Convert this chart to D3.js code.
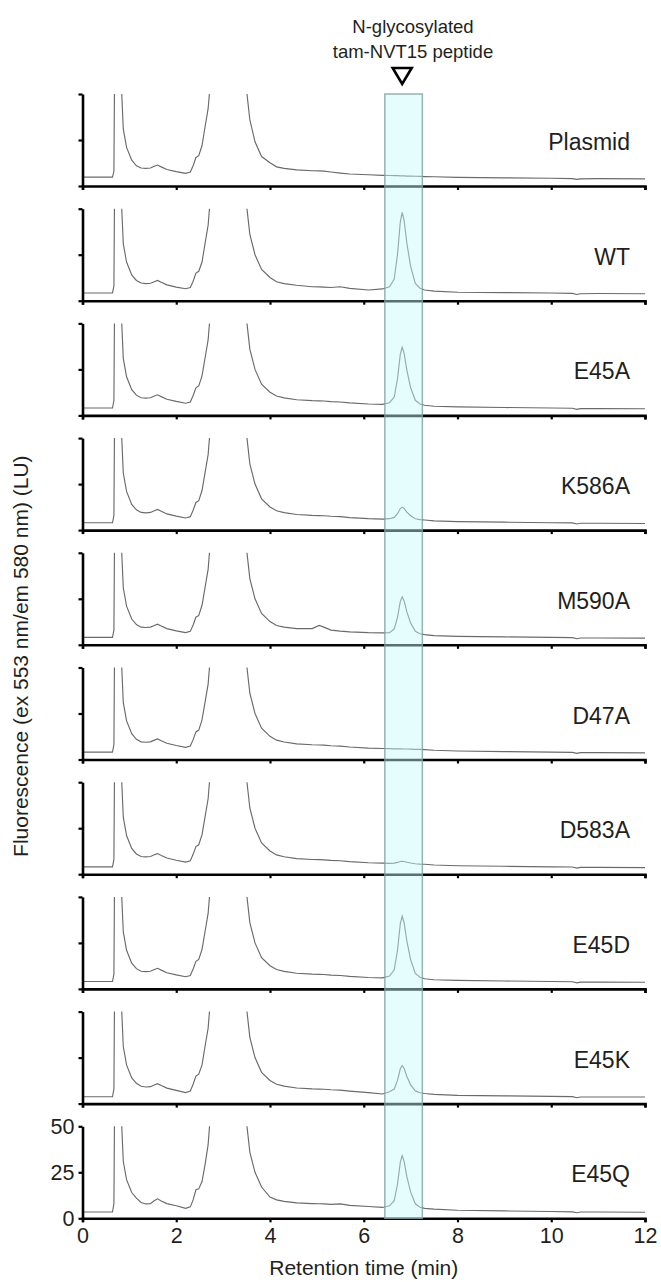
<!DOCTYPE html>
<html><head><meta charset="utf-8">
<script src="https://cdn.jsdelivr.net/npm/d3@7"></script>
<style>
body{margin:0;background:#fff}
text{font-family:"Liberation Sans",Arial,Helvetica,sans-serif;fill:#231f20}
</style>
</head><body>
<svg id="c" width="661" height="1282"></svg>
<script>
// ---------------- DATA ----------------
const samples = ["Plasmid","WT","E45A","K586A","M590A","D47A","D583A","E45D","E45K","E45Q"];
const xTicks = [0,2,4,6,8,10,12];
const yTicks = [0,25,50];
const bandRange = [6.45, 7.25];     // highlighted retention window (min)
const peakTime = 6.82;
const titleLines = ["N-glycosylated","tam-NVT15 peptide"];

// retention time (min) sampling points shared by all traces
const times = [0,0.64,0.67,0.7,0.76,0.82,0.87,0.94,1.05,1.15,1.25,1.35,1.45,1.52,1.6,1.68,1.8,2.0,2.2,2.3,2.36,2.42,2.48,2.55,2.62,2.68,2.74,2.8,
  3.45,3.5,3.57,3.68,3.82,4.0,4.14,4.3,4.57,4.9,5.05,5.15,5.3,5.5,5.7,6.1,6.4,
  6.55,6.65,6.72,6.78,6.82,6.86,6.92,7.0,7.1,7.2,7.3,
  7.5,8.0,9.0,10.0,10.45,10.55,10.62,11,12];

// fluorescence (LU); values above 50 are off-scale
const plasmid = [4.8,4.8,8,120,200,60,31,21,14,11,9.8,9.6,9.8,10.6,11.4,10.4,9,7.8,6.9,7.6,11,15.5,16.5,22,33,42,60,120,
  150,52,36,24,16,12.6,10.4,9.6,8.8,8.3,8.2,8.1,7.6,7.0,6.5,6.1,5.8,
  5.7,5.6,5.6,5.5,5.5,5.5,5.4,5.4,5.3,5.2,5.1,
  5.0,4.7,4.4,4.2,4.0,3.6,3.9,4.0,3.9];
const wt = [4.2,4.2,8,120,200,60,31,21,14,11,9.6,9.3,9.5,10.2,11.0,10.0,8.6,7.4,6.5,7.2,10.6,15,16,21,32,41,60,120,
  150,52,36,25,17,12.6,10.3,9.3,8.4,7.6,7.5,7.4,7.2,7.6,6.7,5.8,6.4,
  7.6,11.8,25.1,42.9,48,43.7,31.2,18.7,9.4,6.8,5.8,
  5.2,4.6,4.4,4.2,4.0,3.4,3.8,3.9,3.8];
const e45a = [4.0,4.0,8,120,200,60,31,21,14,11,9.6,9.4,9.6,10.4,11.2,10.2,8.8,7.6,6.6,7.3,10.8,15,16,21.5,32,41,60,120,
  150,52,36,25,17,12.6,10.5,9.5,8.5,8.0,7.9,7.8,7.5,7.3,6.8,6.2,6.0,
  6.9,10.0,19.9,33.3,37,33.9,24.5,15.1,8.2,6.2,5.5,
  5.0,4.6,4.3,4.0,3.9,3.3,3.7,3.7,3.6];
const k586a = [4.0,4.0,8,120,200,60,31,21,14,11,9.6,9.4,9.6,10.4,11.2,10.2,8.8,7.6,6.6,7.3,10.8,15,16,21.5,32,41,60,120,
  150,52,36,25,17,12.6,10.5,9.5,8.5,8.0,7.9,7.8,7.5,7.3,6.8,6.2,6.0,
  6.2,6.9,8.9,11.7,12.5,11.8,9.8,7.8,6.2,5.7,5.5,
  5.0,4.6,4.3,4.0,3.9,3.3,3.7,3.7,3.6];
const m590a = [4.0,4.0,8,120,200,60,31,21,14,11,9.6,9.4,9.6,10.4,11.2,10.2,8.8,7.6,6.6,7.3,10.8,15,16,21.5,32,41,60,120,
  150,52,36,25,17,12.6,10.5,9.6,8.8,8.8,10.5,9.6,8.0,7.4,7.0,6.6,6.5,
  6.6,8.6,14.9,23.6,26,24.0,17.9,11.8,7.3,6.0,5.5,
  5.0,4.6,4.3,4.0,3.9,3.3,3.7,3.7,3.6];
const d47a = [4.0,4.0,8,120,200,60,31,21,14,11,9.6,9.4,9.6,10.4,11.2,10.2,8.8,7.6,6.6,7.3,10.8,15,16,21.5,32,41,60,120,
  150,52,36,25,17,12.6,10.5,9.5,8.5,8.0,7.9,7.8,7.5,7.3,6.8,6.2,6.0,
  5.9,5.8,5.8,5.8,5.8,5.7,5.7,5.6,5.5,5.5,5.4,
  5.0,4.6,4.3,4.0,3.9,3.3,3.7,3.7,3.6];
const d583a = [4.0,4.0,8,120,200,60,31,21,14,11,9.6,9.4,9.6,10.4,11.2,10.2,8.8,7.6,6.6,7.3,10.8,15,16,21.5,32,41,60,120,
  150,52,36,25,17,12.6,10.5,9.5,8.5,8.0,7.9,7.8,7.5,7.3,6.8,6.2,6.0,
  5.9,6.0,6.4,6.9,7.0,6.9,6.5,6.1,5.7,5.5,5.4,
  5.0,4.6,4.3,4.0,3.9,3.3,3.7,3.7,3.6];
const e45d = [4.0,4.0,8,120,200,60,31,21,14,11,9.6,9.4,9.6,10.4,11.2,10.2,8.8,7.6,6.6,7.3,10.8,15,16,21.5,32,41,60,120,
  150,52,36,25,17,12.6,10.5,9.5,8.5,8.0,7.9,7.8,7.5,7.3,6.8,6.2,6.0,
  7.0,10.4,21.0,35.5,39.5,36.1,26.0,15.9,8.4,6.3,5.5,
  5.0,4.6,4.3,4.0,3.9,3.3,3.7,3.7,3.6];
const e45k = [3.7,3.7,8,120,200,60,31,21,14,11,9.4,9.0,9.2,10.0,10.8,9.8,8.4,7.2,6.0,6.8,10.5,15,16,21,32,41,60,120,
  150,52,36,25,17,12.6,10.5,9.5,8.5,8.0,7.9,7.8,7.5,7.3,6.8,6.0,5.2,
  6.4,7.9,12.6,18.9,20.7,19.2,14.7,10.2,6.9,5.9,5.5,
  5.0,4.5,4.2,3.9,3.8,3.2,3.6,3.6,3.6];
const e45q = [3.4,3.4,8,120,200,60,31,21,14,11,8.6,7.8,8.0,9.4,10.6,9.4,8.0,6.8,5.4,6.2,10,15.5,16,20,30,40,60,120,
  150,52,36,25,17,11.5,10.0,9.2,8.4,8.0,7.9,7.8,7.6,7.8,7.0,6.4,5.9,
  6.8,9.6,18.5,30.5,34,31.1,22.6,14.2,7.9,6.0,5.4,
  5.0,4.4,4.0,3.7,3.5,3.0,3.4,3.4,3.3];

const series = [plasmid, wt, e45a, k586a, m590a, d47a, d583a, e45d, e45k, e45q];

// ---------------- LAYOUT ----------------
const svg = d3.select("#c");
const xLeft = 82.5, xRight = 645;
const firstBase = 186, pitch = 114.7, panelH = 92;
const x = d3.scaleLinear().domain([0,12]).range([xLeft,xRight]);
const baseY = i => firstBase + pitch*i;
const n = samples.length;
const FONT = "'Liberation Sans',Arial,sans-serif";

const defs = svg.append("defs");

samples.forEach((name,i) => {
  const b = baseY(i);
  const y = d3.scaleLinear().domain([0,50]).range([b, b-panelH]);
  const g = svg.append("g");

  defs.append("clipPath").attr("id","clip"+i)
    .append("rect").attr("x",xLeft).attr("y",b-panelH).attr("width",xRight-xLeft).attr("height",panelH);

  const data = times.map((t,k)=>[t, series[i][k]]);
  g.append("path").datum(data)
    .attr("clip-path","url(#clip"+i+")")
    .attr("fill","none").attr("stroke","#6a6a6a").attr("stroke-width",1.15)
    .attr("d", d3.line().x(d=>x(d[0])).y(d=>y(d[1])));

  const last = i === n-1;
  const xa = d3.axisBottom(x).tickValues(xTicks).tickSize(4).tickSizeOuter(4).tickPadding(5)
    .tickFormat(last ? d3.format("d") : "");
  const gx = g.append("g").attr("transform",`translate(0,${b})`).call(xa);
  gx.select(".domain").attr("stroke","#000").attr("stroke-width",2.6);
  gx.selectAll(".tick line").attr("stroke","#000").attr("stroke-width",2.2);
  gx.selectAll(".tick text").attr("font-size",21.5).attr("fill","#231f20").attr("font-family",FONT);

  const ya = d3.axisLeft(y).tickValues(yTicks).tickSize(4).tickSizeOuter(0).tickPadding(4)
    .tickFormat(last ? d3.format("d") : "");
  const gy = g.append("g").attr("transform",`translate(${xLeft},0)`).call(ya);
  gy.select(".domain").attr("stroke","#000").attr("stroke-width",2.6);
  gy.selectAll(".tick line").attr("stroke","#000").attr("stroke-width",2.2);
  gy.selectAll(".tick text").attr("font-size",21.5).attr("fill","#231f20").attr("font-family",FONT);

  g.append("text").attr("x",630).attr("y",b-36).attr("text-anchor","end")
    .attr("font-size",23).text(name);
});

// highlighted band
svg.append("rect")
  .attr("x",x(bandRange[0])).attr("y",baseY(0)-panelH)
  .attr("width",x(bandRange[1])-x(bandRange[0]))
  .attr("height",baseY(n-1)-(baseY(0)-panelH))
  .attr("fill","#c8fbfb").attr("fill-opacity",0.45)
  .attr("stroke","#7f9f9f").attr("stroke-opacity",0.8).attr("stroke-width",1.5);

// triangle marker
const tx = x(peakTime);
svg.append("path")
  .attr("d",`M${tx-9.5},68 L${tx+9.5},68 L${tx},84 Z`)
  .attr("fill","#fff").attr("stroke","#000").attr("stroke-width",2.6).attr("stroke-linejoin","miter");

// title
svg.append("text").attr("x",413).attr("y",33).attr("text-anchor","middle").attr("font-size",18.5).text(titleLines[0]);
svg.append("text").attr("x",413).attr("y",58).attr("text-anchor","middle").attr("font-size",18.5).text(titleLines[1]);

// axis titles
svg.append("text").attr("x",(xLeft+xRight)/2).attr("y",1275).attr("text-anchor","middle")
  .attr("font-size",21).text("Retention time (min)");
svg.append("text").attr("transform",`translate(28,${(baseY(0)-panelH+baseY(n-1))/2}) rotate(-90)`)
  .attr("text-anchor","middle").attr("font-size",21).text("Fluorescence (ex 553 nm/em 580 nm) (LU)");
</script>
</body></html>
